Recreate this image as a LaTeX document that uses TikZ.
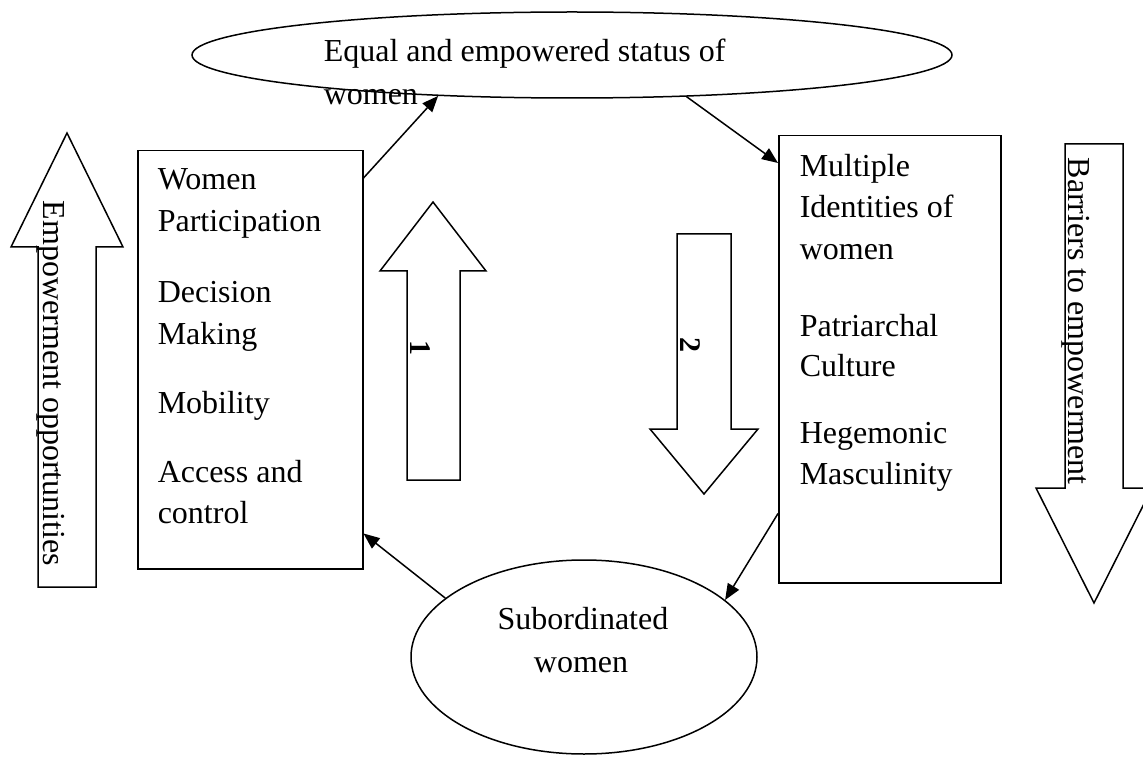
\documentclass[tikz,border=0pt]{standalone}
\usepackage{fontspec}
\setmainfont{Liberation Serif}
\usetikzlibrary{arrows.meta,shapes.geometric}
\begin{document}
\begin{tikzpicture}[x=1pt,y=-1pt,line width=1.5pt,
  txt/.style={font=\fontsize{32}{38}\selectfont, inner sep=0pt},
  ln/.style={txt, anchor=base west},
  lnc/.style={txt, anchor=base},
  vtxt/.style={txt, rotate=-90, anchor=base west},
  num/.style={vtxt, font=\fontsize{30}{36}\selectfont\bfseries},
  boxnode/.style={draw, rectangle, inner sep=0pt, anchor=north west},
  ellnode/.style={draw, ellipse, inner sep=0pt},
  conn/.style={-{Triangle[length=16pt,width=13pt]}},
  bigarrow/.style={draw, line join=miter}]
\useasboundingbox (0,0) rectangle (1143,759);
\clip (0,0) rectangle (1143,759);

% big side arrows
\draw[bigarrow] (38,587) -- (38,247) -- (11,247) -- (67,133) -- (123,247) -- (96,247) -- (96,587) -- cycle;
\node[vtxt] (empopp) at (43,200) {Empowerment opportunities};
\draw[bigarrow] (1065,144) -- (1123,144) -- (1123,488) -- (1152,488) -- (1094,603) -- (1036,488) -- (1065,488) -- cycle;
\node[vtxt] (barriers) at (1068,157) {Barriers to empowerment};

% middle arrows
\draw[bigarrow] (407,480) -- (407,271) -- (380,271) -- (433,202) -- (486,271) -- (460,271) -- (460,480) -- cycle;
\node[num] (one) at (410,340) {1};
\draw[bigarrow] (677,234) -- (731,234) -- (731,429) -- (758,429) -- (704,494) -- (650,429) -- (677,429) -- cycle;
\node[num] (two) at (680,337) {2};

% top ellipse
\node[ellnode, minimum width=760pt, minimum height=86pt] (topell) at (572,55) {};
\node[ln] (t1) at (323,62) {Equal and empowered status of};
\node[ln] (t2) at (323,105) {women};

% left box
\node[boxnode, minimum width=225pt, minimum height=418pt] (leftbox) at (137,150) {};
\node[ln] (l1) at (157,190) {Women};
\node[ln] (l2) at (157,232) {Participation};
\node[ln] (l3) at (157,302) {Decision};
\node[ln] (l4) at (157,344) {Making};
\node[ln] (l5) at (157,413) {Mobility};
\node[ln] (l6) at (157,482) {Access and};
\node[ln] (l7) at (157,523) {control};

% right box
\node[boxnode, minimum width=222pt, minimum height=447pt] (rightbox) at (778,135) {};
\node[ln] (r1) at (799,177) {Multiple};
\node[ln] (r2) at (799,218) {Identities of};
\node[ln] (r3) at (799,260) {women};
\node[ln] (r4) at (799,337) {Patriarchal};
\node[ln] (r5) at (799,376) {Culture};
\node[ln] (r6) at (799,443) {Hegemonic};
\node[ln] (r7) at (799,484) {Masculinity};

% bottom ellipse
\node[ellnode, minimum width=346pt, minimum height=194pt] (botell) at (584,657) {};
\node[lnc] (b1) at (583,629) {Subordinated};
\node[lnc] (b2) at (581,672) {women};

% connectors
\draw[conn] ([yshift=-28pt]leftbox.north east) -- (topell.197);
\draw[conn] (topell.-20) -- ([yshift=-28pt]rightbox.north west);
\draw[conn] ([yshift=70pt]rightbox.south west) -- (botell.22);
\draw[conn] (botell.157) -- ([yshift=36pt]leftbox.south east);
\end{tikzpicture}
\end{document}
